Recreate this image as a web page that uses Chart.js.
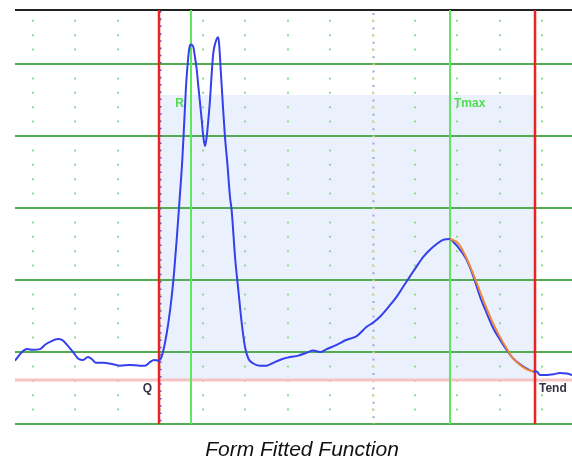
<!DOCTYPE html>
<html>
<head>
<meta charset="utf-8">
<script src="https://cdn.jsdelivr.net/npm/chart.js@4.4.1/dist/chart.umd.min.js"></script>
<style>
  html, body { margin: 0; padding: 0; background: #fff; }
  canvas { display: block; }
</style>
</head>
<body>
<canvas id="ffChart" width="572" height="459"></canvas>
<script>
// measured signal (time in ms, amplitude in major grid units)
const timeMs = [0, 6.6, 11.3, 17, 23.6, 28.3, 33, 40.5, 44.3, 49, 54.7, 60.3, 64.1, 68.8, 72.6, 76.3, 82.9, 92.4, 99,
  108.4, 117.8, 122.5, 127.2, 131, 135.1, 138.3, 141.4, 144.5, 147.7, 149.9, 152.4, 154.9, 157.7, 159.6, 161.2,
  162.8, 164.3, 165.9, 168, 169.6, 171.3, 172.8, 174.4, 176, 177.5, 179.1, 180.7, 182.2, 183.8, 185.4, 186.9,
  189.2, 191.6, 192.6, 193.9, 195.8, 197.9, 200.1, 202.6, 204.2, 207.4, 210.5, 213.7, 216.8, 219.9, 224.6, 230.9,
  237.2, 243.4, 251.4, 259.2, 267, 274.9, 281.1, 287.5, 293.8, 303.2, 312.6, 322.1, 331.5, 337.7, 344, 353.4,
  359.8, 366, 372.3, 378.6, 384.8, 391.1, 397.5, 403.7, 410, 413.1, 416.3, 425.7, 432, 438.3, 444.6, 450.8, 457.1,
  463.4, 469.6, 476, 482.3, 488.5, 491.7, 494.8, 501.1, 507.4, 513.7, 520, 525];
const signal = [0.88, 1.00, 1.04, 1.03, 1.04, 1.10, 1.14, 1.18, 1.17, 1.10, 1.00, 0.90, 0.89, 0.93, 0.90, 0.85, 0.85,
  0.83, 0.81, 0.82, 0.81, 0.81, 0.86, 0.89, 0.88, 0.94, 1.13, 1.40, 1.77, 2.10, 2.56, 3.07, 3.67, 4.22, 4.69,
  5.01, 5.22, 5.27, 5.24, 5.10, 4.92, 4.69, 4.46, 4.22, 3.99, 3.86, 3.99, 4.22, 4.50, 4.87, 5.15,
  5.31, 5.37, 5.24, 4.92, 4.46, 3.99, 3.63, 3.16, 2.97, 2.32, 1.86, 1.40, 1.07, 0.91, 0.84, 0.81,
  0.81, 0.85, 0.90, 0.93, 0.95, 0.99, 1.02, 1.00, 1.04, 1.10, 1.17, 1.22, 1.35, 1.41, 1.49, 1.65,
  1.77, 1.91, 2.05, 2.19, 2.32, 2.42, 2.50, 2.56, 2.57, 2.53, 2.48, 2.28, 2.05, 1.77, 1.54, 1.33, 1.17,
  1.03, 0.91, 0.83, 0.77, 0.73, 0.73, 0.68, 0.68, 0.69, 0.71, 0.70, 0.68];

// fitted T-wave descent
const fitTimeMs = [410, 417.8, 425.7, 433.6, 441.4, 449.3, 457.1, 463.4, 469.6, 476, 482.3, 488.5];
const fitValue = [2.57, 2.51, 2.30, 2.02, 1.72, 1.44, 1.21, 1.05, 0.91, 0.82, 0.76, 0.73];

// fiducial markers
const markerNames = ['Q', 'R', 'Tmax', 'Tend'];
const markerTimes = [136, 166, 410, 490];
const midTime = 337;
const baselineLevel = 0.61;
const windowTop = 4.57;

const xMin = 0, xMax = 525;
const yMin = 0, yMax = 5.75;
const majorTicks = [0, 1, 2, 3, 4, 5, 5.75];
const dotTicks = [];
for (let t = 17; t < xMax; t += 40) dotTicks.push(t);

const markerStyle = {
    Q:    { line: '#ee2222', text: '#333344', side: 'left', low: true },
    R:    { line: '#5ee65e', text: '#4fdc4f', side: 'left', low: false },
    Tmax: { line: '#5ee65e', text: '#4fdc4f', side: 'right', low: false },
    Tend: { line: '#ee2222', text: '#333344', side: 'right', low: true }
};

function vline(ctx, x, top, bottom, color, width, dash, offset) {
    ctx.save();
    ctx.strokeStyle = color;
    ctx.lineWidth = width;
    ctx.setLineDash(dash || []);
    ctx.lineDashOffset = offset || 0;
    ctx.beginPath();
    ctx.moveTo(x, top);
    ctx.lineTo(x, bottom);
    ctx.stroke();
    ctx.restore();
}

const annotations = {
    id: 'ecgAnnotations',
    beforeDraw(chart) {
        // shaded analysis window Q..Tend
        const { ctx, scales: { x, y } } = chart;
        const x0 = x.getPixelForValue(markerTimes[0]);
        const x1 = x.getPixelForValue(markerTimes[3]);
        const y0 = y.getPixelForValue(windowTop);
        const y1 = y.getPixelForValue(baselineLevel);
        ctx.save();
        ctx.fillStyle = 'rgb(235, 241, 252)';
        ctx.fillRect(x0, y0, x1 - x0, y1 - y0);
        ctx.restore();
    },
    beforeDatasetsDraw(chart) {
        const { ctx, chartArea: a, scales: { x, y } } = chart;

        // baseline
        const by = y.getPixelForValue(baselineLevel);
        ctx.save();
        ctx.strokeStyle = 'rgba(246, 190, 190, 0.9)';
        ctx.lineWidth = 3;
        ctx.beginPath();
        ctx.moveTo(a.left, by);
        ctx.lineTo(a.right, by);
        ctx.stroke();
        ctx.restore();

        // dotted mid line
        const mx = Math.round(x.getPixelForValue(midTime)) + 0.5;
        vline(ctx, mx, a.top + 1, a.bottom, '#a0a0ec', 2, [2, 12.4], -2);
        vline(ctx, mx, a.top + 1, a.bottom, '#f7c79c', 2, [2, 12.4], -9.2);

        // blue ticks beside Q
        const qx = Math.round(x.getPixelForValue(markerTimes[0]));
        vline(ctx, qx + 1.5, a.top + 1, a.bottom, '#5555cc', 2, [1.5, 5.8], 0);

        const ty = y.getPixelForValue(windowTop);
        markerNames.forEach((name, i) => {
            const st = markerStyle[name];
            const px = Math.round(x.getPixelForValue(markerTimes[i]));
            vline(ctx, px, a.top, a.bottom, st.line, st.line === '#ee2222' ? 2.5 : 2);

            ctx.save();
            ctx.font = 'bold 12px "Liberation Sans", Arial, sans-serif';
            ctx.fillStyle = st.text;
            ctx.textBaseline = 'top';
            ctx.textAlign = st.side === 'left' ? 'right' : 'left';
            const lx = st.side === 'left' ? px - 7 : px + 4;
            const ly = st.low ? by + 3 : ty + 3;
            ctx.fillText(name, lx, ly);
            ctx.restore();
        });
    },
    afterDraw(chart) {
        const { ctx } = chart;
        ctx.save();
        ctx.font = 'italic 21px "Liberation Sans", Arial, sans-serif';
        ctx.fillStyle = '#111';
        ctx.textAlign = 'center';
        ctx.textBaseline = 'alphabetic';
        ctx.fillText('Form Fitted Function', 302, 456);
        ctx.restore();
    }
};

new Chart(document.getElementById('ffChart'), {
    type: 'line',
    data: {
        datasets: [{
            label: 'Measured',
            data: timeMs.map((t, i) => ({ x: t, y: signal[i] })),
            borderColor: '#3340ec',
            borderWidth: 2,
            pointRadius: 0,
            cubicInterpolationMode: 'monotone',
            order: 2
        }, {
            label: 'Fit',
            data: fitTimeMs.map((t, i) => ({ x: t, y: fitValue[i] })),
            borderColor: '#f0883a',
            borderWidth: 2,
            pointRadius: 0,
            cubicInterpolationMode: 'monotone',
            order: 1
        }]
    },
    options: {
        responsive: false,
        animation: false,
        devicePixelRatio: 1,
        layout: { padding: { left: 15, top: 10, right: 0, bottom: 35 } },
        plugins: { legend: { display: false }, tooltip: { enabled: false }, title: { display: false } },
        scales: {
            x: {
                type: 'linear',
                min: xMin,
                max: xMax,
                afterBuildTicks: (axis) => { axis.ticks = dotTicks.map(v => ({ value: v })); },
                ticks: { display: false },
                grid: { color: '#94d894', lineWidth: 2, drawTicks: false },
                border: { display: false, dash: [2, 12.4], dashOffset: 4.6 }
            },
            y: {
                min: yMin,
                max: yMax,
                afterBuildTicks: (axis) => { axis.ticks = majorTicks.map(v => ({ value: v })); },
                ticks: { display: false },
                grid: {
                    drawTicks: false,
                    color: (c) => (c.tick && c.tick.value > 5.5 ? '#222' : '#52ad52'),
                    lineWidth: 2
                },
                border: { display: false }
            }
        }
    },
    plugins: [annotations]
});
</script>
</body>
</html>
